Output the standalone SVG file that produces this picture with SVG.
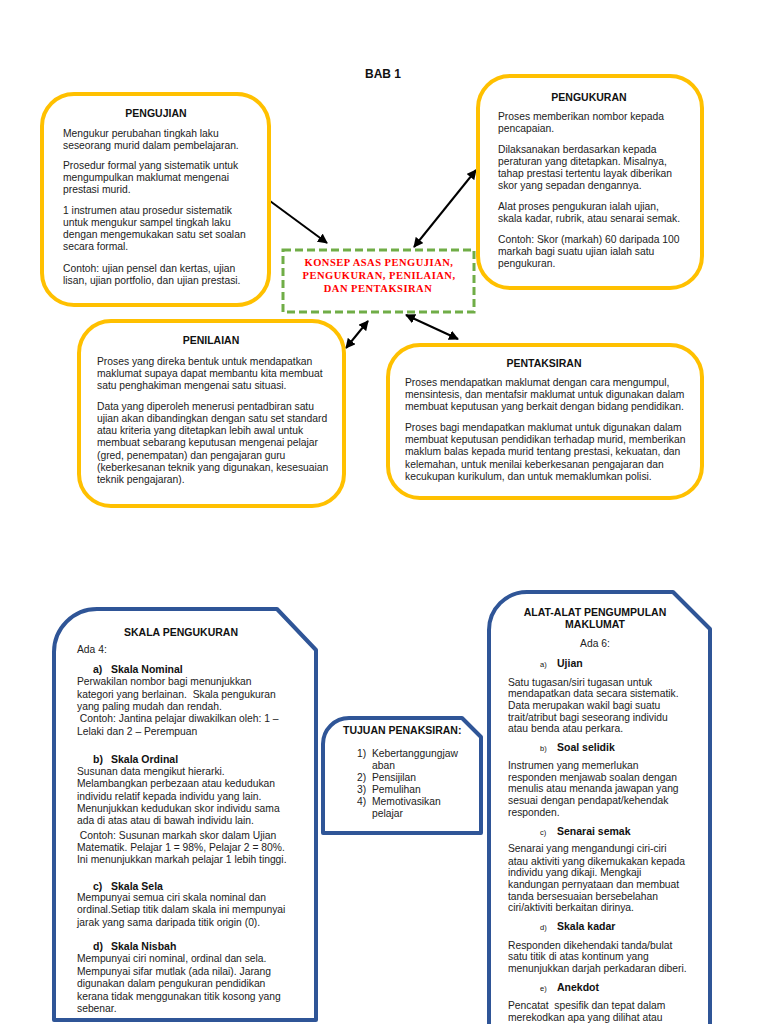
<svg xmlns="http://www.w3.org/2000/svg" width="768" height="1024" viewBox="0 0 768 1024">
<defs>
<style>
.y{fill:#fff;stroke:#FFC000;stroke-width:4}
.b{fill:#fff;stroke:#2F5597;stroke-width:4;stroke-linejoin:round}
.t{font-family:"Liberation Sans",Arial,sans-serif;font-size:10.3px;fill:#222;white-space:pre}
.h{font-family:"Liberation Sans",Arial,sans-serif;font-size:10.5px;font-weight:bold;fill:#111}
.s{font-family:"Liberation Sans",Arial,sans-serif;font-size:7.5px;fill:#111}
.c{font-family:"Liberation Serif","Times New Roman",serif;font-size:10.5px;font-weight:bold;fill:#FF0000;letter-spacing:0.5px}
.m{text-anchor:middle}
.ln{stroke:#000;stroke-width:2;fill:none}
</style>
<marker id="ah" viewBox="0 0 10 10" refX="9" refY="5" markerWidth="5" markerHeight="5" orient="auto-start-reverse" markerUnits="strokeWidth">
<path d="M0,0 L10,5 L0,10 Z" fill="#000"/>
</marker>
</defs>
<rect width="768" height="1024" fill="#fff"/>

<text x="383" y="78" class="m" style="font-family:'Liberation Sans',Arial,sans-serif;font-size:12px;font-weight:bold;fill:#111">BAB 1</text>

<g id="connectors">
<line class="ln" x1="270" y1="201" x2="327" y2="243" marker-end="url(#ah)"/>
<line class="ln" x1="476" y1="170" x2="414" y2="247" marker-start="url(#ah)" marker-end="url(#ah)"/>
<line class="ln" x1="368" y1="321" x2="346" y2="348" marker-start="url(#ah)" marker-end="url(#ah)"/>
<line class="ln" x1="406" y1="315" x2="458" y2="339" marker-start="url(#ah)" marker-end="url(#ah)"/>
</g>

<g id="konsep">
<rect x="283" y="250" width="191" height="62" fill="#fff" stroke="#70AD47" stroke-width="3" stroke-dasharray="8,4"/>
<text x="379" y="266" class="c m">KONSEP ASAS PENGUJIAN,</text>
<text x="379" y="279" class="c m">PENGUKURAN, PENILAIAN,</text>
<text x="378" y="292" class="c m">DAN PENTAKSIRAN</text>
</g>

<g id="pengujian">
<rect class="y" x="42" y="94" width="227" height="211" rx="32"/>
<text x="156" y="117" class="h m">PENGUJIAN</text>
<text class="t" x="63" y="137">Mengukur perubahan tingkah laku</text>
<text class="t" x="63" y="149">seseorang murid dalam pembelajaran.</text>
<text class="t" x="63" y="169">Prosedur formal yang sistematik untuk</text>
<text class="t" x="63" y="181">mengumpulkan maklumat mengenai</text>
<text class="t" x="63" y="193">prestasi murid.</text>
<text class="t" x="63" y="214">1 instrumen atau prosedur sistematik</text>
<text class="t" x="63" y="226">untuk mengukur sampel tingkah laku</text>
<text class="t" x="63" y="238">dengan mengemukakan satu set soalan</text>
<text class="t" x="63" y="250">secara formal.</text>
<text class="t" x="63" y="272">Contoh: ujian pensel dan kertas, ujian</text>
<text class="t" x="63" y="284">lisan, ujian portfolio, dan ujian prestasi.</text>
</g>

<g id="pengukuran">
<rect class="y" x="478" y="76" width="224" height="212" rx="32"/>
<text x="589" y="101" class="h m">PENGUKURAN</text>
<text class="t" x="498" y="120">Proses memberikan nombor kepada</text>
<text class="t" x="498" y="132">pencapaian.</text>
<text class="t" x="498" y="153">Dilaksanakan berdasarkan kepada</text>
<text class="t" x="498" y="165">peraturan yang ditetapkan. Misalnya,</text>
<text class="t" x="498" y="177">tahap prestasi tertentu layak diberikan</text>
<text class="t" x="498" y="189">skor yang sepadan dengannya.</text>
<text class="t" x="498" y="210">Alat proses pengukuran ialah ujian,</text>
<text class="t" x="498" y="222">skala kadar, rubrik, atau senarai semak.</text>
<text class="t" x="498" y="243">Contoh: Skor (markah) 60 daripada 100</text>
<text class="t" x="498" y="255">markah bagi suatu ujian ialah satu</text>
<text class="t" x="498" y="267">pengukuran.</text>
</g>

<g id="penilaian">
<rect class="y" x="79" y="321" width="265" height="185" rx="32"/>
<text x="211" y="344" class="h m">PENILAIAN</text>
<text class="t" x="97" y="365">Proses yang direka bentuk untuk mendapatkan</text>
<text class="t" x="97" y="377">maklumat supaya dapat membantu kita membuat</text>
<text class="t" x="97" y="389">satu penghakiman mengenai satu situasi.</text>
<text class="t" x="97" y="410">Data yang diperoleh menerusi pentadbiran satu</text>
<text class="t" x="97" y="422">ujian akan dibandingkan dengan satu set standard</text>
<text class="t" x="97" y="434">atau kriteria yang ditetapkan lebih awal untuk</text>
<text class="t" x="97" y="446">membuat sebarang keputusan mengenai pelajar</text>
<text class="t" x="97" y="459">(gred, penempatan) dan pengajaran guru</text>
<text class="t" x="97" y="471">(keberkesanan teknik yang digunakan, kesesuaian</text>
<text class="t" x="97" y="483">teknik pengajaran).</text>
</g>

<g id="pentaksiran">
<rect class="y" x="388" y="345" width="314" height="153" rx="32"/>
<text x="544" y="367" class="h m">PENTAKSIRAN</text>
<text class="t" x="405" y="386">Proses mendapatkan maklumat dengan cara mengumpul,</text>
<text class="t" x="405" y="398">mensintesis, dan mentafsir maklumat untuk digunakan dalam</text>
<text class="t" x="405" y="410">membuat keputusan yang berkait dengan bidang pendidikan.</text>
<text class="t" x="405" y="431">Proses bagi mendapatkan maklumat untuk digunakan dalam</text>
<text class="t" x="405" y="443">membuat keputusan pendidikan terhadap murid, memberikan</text>
<text class="t" x="405" y="455">maklum balas kepada murid tentang prestasi, kekuatan, dan</text>
<text class="t" x="405" y="468">kelemahan, untuk menilai keberkesanan pengajaran dan</text>
<text class="t" x="405" y="480">kecukupan kurikulum, dan untuk memaklumkan polisi.</text>
</g>

<g id="skala">
<path class="b" d="M54,1020 V652 A43,43 0 0 1 97,609 H277 L316,650 V1020 Z"/>
<text x="181" y="636" class="h m">SKALA PENGUKURAN</text>
<text class="t" x="77" y="653">Ada 4:</text>
<text class="h" x="93" y="673">a)</text><text class="h" x="111" y="673">Skala Nominal</text>
<text class="t" x="77" y="685">Perwakilan nombor bagi menunjukkan</text>
<text class="t" x="77" y="698" xml:space="preserve">kategori yang berlainan.  Skala pengukuran</text>
<text class="t" x="77" y="710">yang paling mudah dan rendah.</text>
<text class="t" x="77" y="722" xml:space="preserve"> Contoh: Jantina pelajar diwakilkan oleh: 1 –</text>
<text class="t" x="77" y="735">Lelaki dan 2 – Perempuan</text>
<text class="h" x="93" y="763">b)</text><text class="h" x="111" y="763">Skala Ordinal</text>
<text class="t" x="77" y="775">Susunan data mengikut hierarki.</text>
<text class="t" x="77" y="787">Melambangkan perbezaan atau kedudukan</text>
<text class="t" x="77" y="800">individu relatif kepada individu yang lain.</text>
<text class="t" x="77" y="812">Menunjukkan kedudukan skor individu sama</text>
<text class="t" x="77" y="824">ada di atas atau di bawah individu lain.</text>
<text class="t" x="77" y="839" xml:space="preserve"> Contoh: Susunan markah skor dalam Ujian</text>
<text class="t" x="77" y="851">Matematik. Pelajar 1 = 98%, Pelajar 2 = 80%.</text>
<text class="t" x="77" y="863">Ini menunjukkan markah pelajar 1 lebih tinggi.</text>
<text class="h" x="93" y="890">c)</text><text class="h" x="111" y="890">Skala Sela</text>
<text class="t" x="77" y="901">Mempunyai semua ciri skala nominal dan</text>
<text class="t" x="77" y="913">ordinal.Setiap titik dalam skala ini mempunyai</text>
<text class="t" x="77" y="926">jarak yang sama daripada titik origin (0).</text>
<text class="h" x="93" y="950">d)</text><text class="h" x="111" y="950">Skala Nisbah</text>
<text class="t" x="77" y="962">Mempunyai ciri nominal, ordinal dan sela.</text>
<text class="t" x="77" y="975">Mempunyai sifar mutlak (ada nilai). Jarang</text>
<text class="t" x="77" y="987">digunakan dalam pengukuran pendidikan</text>
<text class="t" x="77" y="1000">kerana tidak menggunakan titik kosong yang</text>
<text class="t" x="77" y="1012">sebenar.</text>
</g>

<g id="tujuan">
<path class="b" d="M323,833 V744 A26,26 0 0 1 349,718 H462 L481,737 V833 Z"/>
<text class="h" x="343" y="734">TUJUAN PENAKSIRAN:</text>
<text class="t" x="357" y="757">1)</text><text class="t" x="372" y="757">Kebertanggungjaw</text>
<text class="t" x="372" y="769">aban</text>
<text class="t" x="357" y="781">2)</text><text class="t" x="372" y="781">Pensijilan</text>
<text class="t" x="357" y="793">3)</text><text class="t" x="372" y="793">Pemulihan</text>
<text class="t" x="357" y="805">4)</text><text class="t" x="372" y="805">Memotivasikan</text>
<text class="t" x="372" y="817">pelajar</text>
</g>

<g id="alat">
<path class="b" d="M489,1030 V630 A38,38 0 0 1 527,592 H673 L710,629 V1030"/>
<text x="595" y="616" class="h m">ALAT-ALAT PENGUMPULAN</text>
<text x="595" y="628" class="h m">MAKLUMAT</text>
<text x="595" y="647" class="t m">Ada 6:</text>
<text class="s" x="540" y="667">a)</text><text class="h" x="557" y="667">Ujian</text>
<text class="t" x="508" y="686">Satu tugasan/siri tugasan untuk</text>
<text class="t" x="508" y="697">mendapatkan data secara sistematik.</text>
<text class="t" x="508" y="709">Data merupakan wakil bagi suatu</text>
<text class="t" x="508" y="721">trait/atribut bagi seseorang individu</text>
<text class="t" x="508" y="732">atau benda atau perkara.</text>
<text class="s" x="540" y="751">b)</text><text class="h" x="557" y="751">Soal selidik</text>
<text class="t" x="508" y="769">Instrumen yang memerlukan</text>
<text class="t" x="508" y="781">responden menjawab soalan dengan</text>
<text class="t" x="508" y="792">menulis atau menanda jawapan yang</text>
<text class="t" x="508" y="804">sesuai dengan pendapat/kehendak</text>
<text class="t" x="508" y="816">responden.</text>
<text class="s" x="540" y="835">c)</text><text class="h" x="557" y="835">Senarai semak</text>
<text class="t" x="508" y="852">Senarai yang mengandungi ciri-ciri</text>
<text class="t" x="508" y="865">atau aktiviti yang dikemukakan kepada</text>
<text class="t" x="508" y="876">individu yang dikaji. Mengkaji</text>
<text class="t" x="508" y="888">kandungan pernyataan dan membuat</text>
<text class="t" x="508" y="900">tanda bersesuaian bersebelahan</text>
<text class="t" x="508" y="911">ciri/aktiviti berkaitan dirinya.</text>
<text class="s" x="540" y="930">d)</text><text class="h" x="557" y="930">Skala kadar</text>
<text class="t" x="508" y="949">Responden dikehendaki tanda/bulat</text>
<text class="t" x="508" y="960">satu titik di atas kontinum yang</text>
<text class="t" x="508" y="972">menunjukkan darjah perkadaran diberi.</text>
<text class="s" x="540" y="991">e)</text><text class="h" x="557" y="991">Anekdot</text>
<text class="t" x="508" y="1009" xml:space="preserve">Pencatat  spesifik dan tepat dalam</text>
<text class="t" x="508" y="1021">merekodkan apa yang dilihat atau</text>
</g>
</svg>
